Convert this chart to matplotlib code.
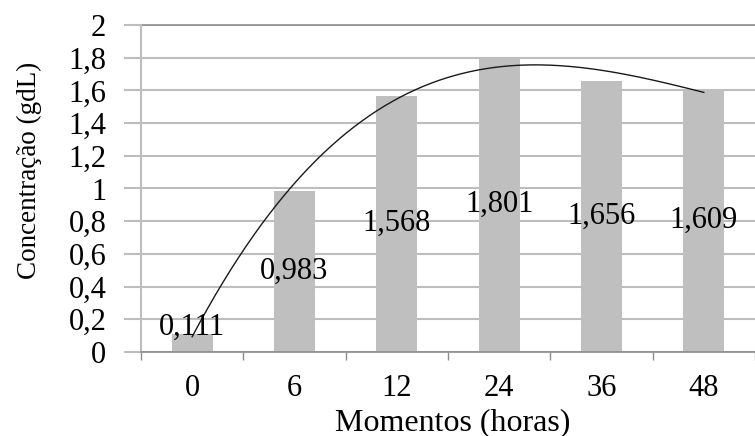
import matplotlib
matplotlib.use("Agg")
import matplotlib.pyplot as plt
import numpy as np

categories = ["0", "6", "12", "24", "36", "48"]
values = [0.111, 0.983, 1.568, 1.801, 1.656, 1.609]
value_labels = ["0,111", "0,983", "1,568", "1,801", "1,656", "1,609"]
yticks = [0, 0.2, 0.4, 0.6, 0.8, 1.0, 1.2, 1.4, 1.6, 1.8, 2.0]
ytick_labels = ["0", "0,2", "0,4", "0,6", "0,8", "1", "1,2", "1,4", "1,6", "1,8", "2"]

plt.rcParams["font.family"] = ["Liberation Serif", "DejaVu Serif"]
FS = 22

W, H = 755, 436
fig = plt.figure(figsize=(W / 100, H / 100), dpi=100)
ax = fig.add_axes([141 / W, 1 - 352 / H, (W - 141) / W, (352 - 25) / H])

x = np.arange(len(categories))
ax.bar(x, values, width=0.4, color="#BFBFBF", zorder=2)

# polynomial trend line (Excel-style, order 3)
xi = x + 1
coef = np.polyfit(xi, values, 3)
xs = np.linspace(1, len(categories), 200)
ax.plot(xs - 1, np.polyval(coef, xs), color="#1a1a1a", lw=1.0, zorder=3)

for i, (v, lab) in enumerate(zip(values, value_labels)):
    ypos = max(v / 2, 0.153)
    ax.text(i, ypos, lab, ha="center", va="center", fontsize=FS, zorder=4)

ax.set_xlim(-0.5, -0.5 + (W - 141) / 103.5)
ax.set_ylim(0, 2)
ax.set_yticks(yticks)
ax.set_yticklabels(ytick_labels, fontsize=FS)
ax.set_xticks(x)
ax.set_xticklabels(categories, fontsize=FS)
ax.set_xticks(np.arange(-0.5, len(categories), 1.0), minor=True)
ax.tick_params(axis="x", which="major", length=0, pad=16)
ax.tick_params(axis="x", which="minor", length=6, color="#8c8c8c", width=1)
ax.tick_params(axis="y", length=12, color="#bdbdbd", width=1.5, pad=13)

ax.yaxis.grid(True, color="#bdbdbd", lw=1.5, zorder=0)
ax.set_axisbelow(True)
for s in ["top", "right"]:
    ax.spines[s].set_visible(False)
ax.spines["left"].set_color("#bdbdbd")
ax.spines["left"].set_linewidth(1.5)
ax.spines["bottom"].set_color("#8c8c8c")
ax.spines["bottom"].set_linewidth(1.2)
ax.axhline(2, color="#8c8c8c", lw=1.2, zorder=1, clip_on=False)

fig.text((322 + 583) / 2 / W, 1 - 423 / H, "Momentos (horas)",
         ha="center", va="center", fontsize=23)
fig.text(29 / W, 1 - 170 / H, "Concentração (gdL)", rotation=90,
         ha="center", va="center", fontsize=19.5)

fig.savefig("out.png", dpi=100)
